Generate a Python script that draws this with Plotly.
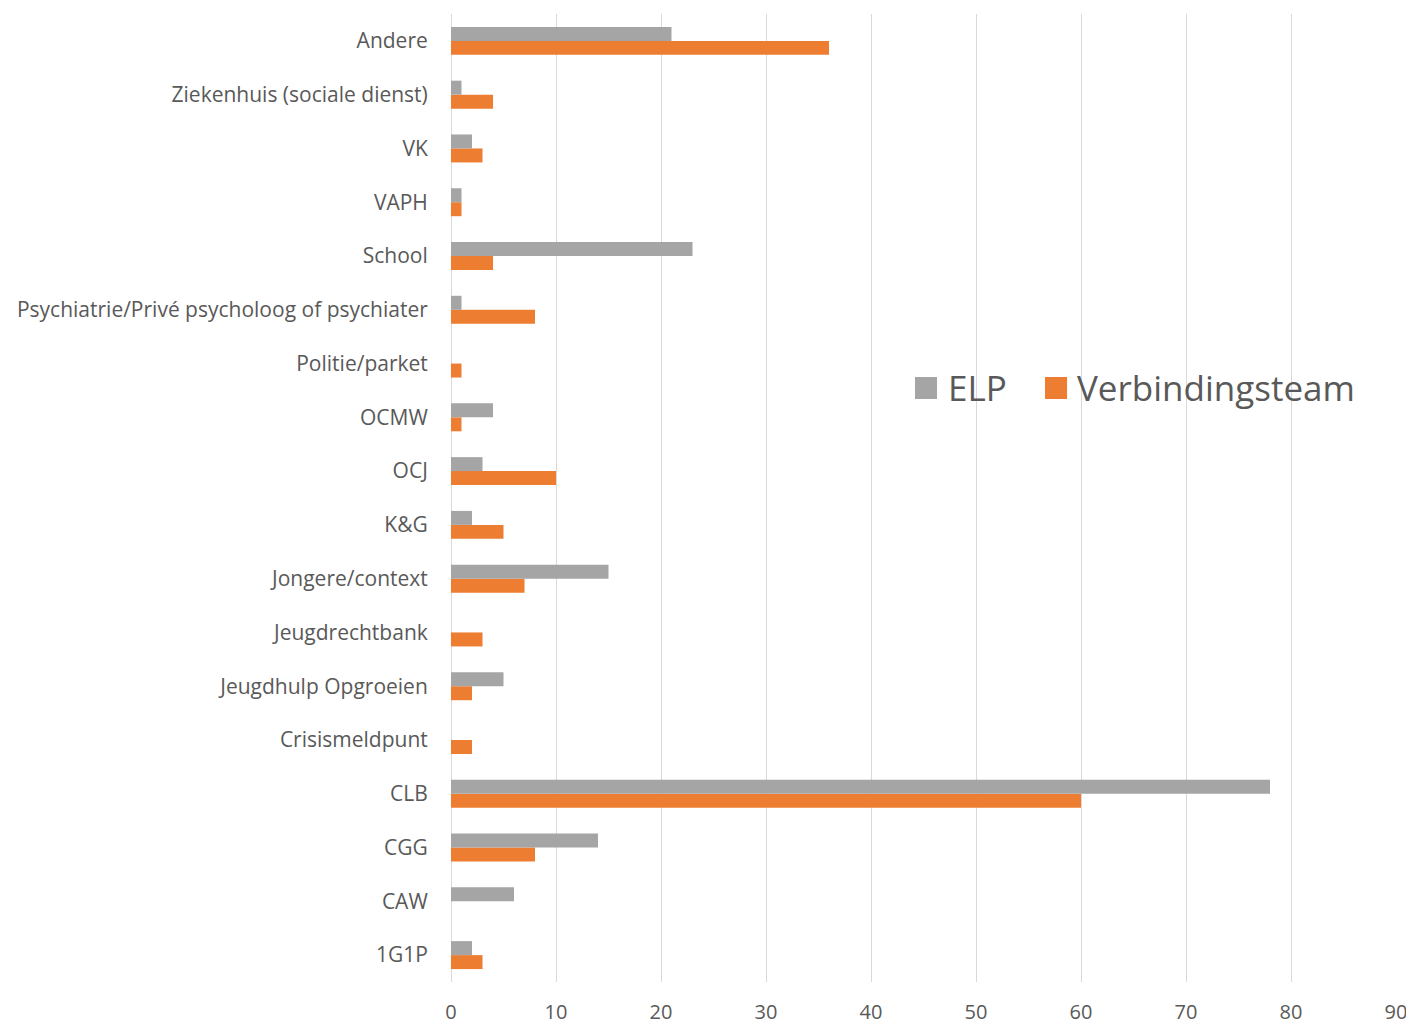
import plotly.graph_objects as go

categories = ["1G1P", "CAW", "CGG", "CLB", "Crisismeldpunt", "Jeugdhulp Opgroeien",
              "Jeugdrechtbank", "Jongere/context", "K&G", "OCJ", "OCMW", "Politie/parket",
              "Psychiatrie/Privé psycholoog of psychiater", "School", "VAPH", "VK",
              "Ziekenhuis (sociale dienst)", "Andere"]
elp = [2, 6, 14, 78, 0, 5, 0, 15, 2, 3, 4, 0, 1, 23, 1, 2, 1, 21]
verbindingsteam = [3, 0, 8, 60, 2, 2, 3, 7, 5, 10, 1, 1, 8, 4, 1, 3, 4, 36]
x_ticks = [0, 10, 20, 30, 40, 50, 60, 70, 80, 90]

GRAY = "#A5A5A5"
ORANGE = "#ED7D31"
TEXT = "#595959"
font_family = "Open Sans, Liberation Sans, sans-serif"

fig = go.Figure()
fig.add_trace(go.Bar(y=categories, x=verbindingsteam, name="Verbindingsteam",
                     orientation="h", marker=dict(color=ORANGE, line_width=0)))
fig.add_trace(go.Bar(y=categories, x=elp, name="ELP",
                     orientation="h", marker=dict(color=GRAY, line_width=0)))

# legend drawn as squares + labels (large legend like the original)
legend_items = [("ELP", GRAY, 0.4910, 0.5235), ("Verbindingsteam", ORANGE, 0.6286, 0.6605)]
for name, col, sx, tx in legend_items:
    fig.add_shape(type="rect", xref="paper", yref="paper",
                  x0=sx, x1=sx + 0.0233, y0=0.6023, y1=0.625,
                  fillcolor=col, line_width=0)
    fig.add_annotation(text=name, xref="paper", yref="paper", x=tx, y=0.6145,
                       xanchor="left", yanchor="middle", showarrow=False,
                       font=dict(size=35, color=TEXT, family=font_family))

fig.update_layout(
    width=1406, height=1016,
    margin=dict(l=443, r=18, t=6, b=42),
    paper_bgcolor="white", plot_bgcolor="white",
    barmode="group", bargap=0.48, bargroupgap=0,
    font=dict(family=font_family, color=TEXT, size=20),
    showlegend=False,
)
fig.update_xaxes(range=[0, 90], tickvals=x_ticks, showgrid=True, gridcolor="#D9D9D9",
                 gridwidth=1.3, zeroline=True, zerolinecolor="#D9D9D9", zerolinewidth=1.3,
                 showline=False, ticks="outside", ticklen=12, tickcolor="rgba(0,0,0,0)",
                 tickfont=dict(size=20, color=TEXT), automargin=False)
fig.update_yaxes(categoryorder="array", categoryarray=categories, showgrid=False,
                 ticks="outside", ticklen=18, tickcolor="rgba(0,0,0,0)",
                 tickfont=dict(size=21, color=TEXT), showline=False, automargin=False)

fig.write_html("out.html")
